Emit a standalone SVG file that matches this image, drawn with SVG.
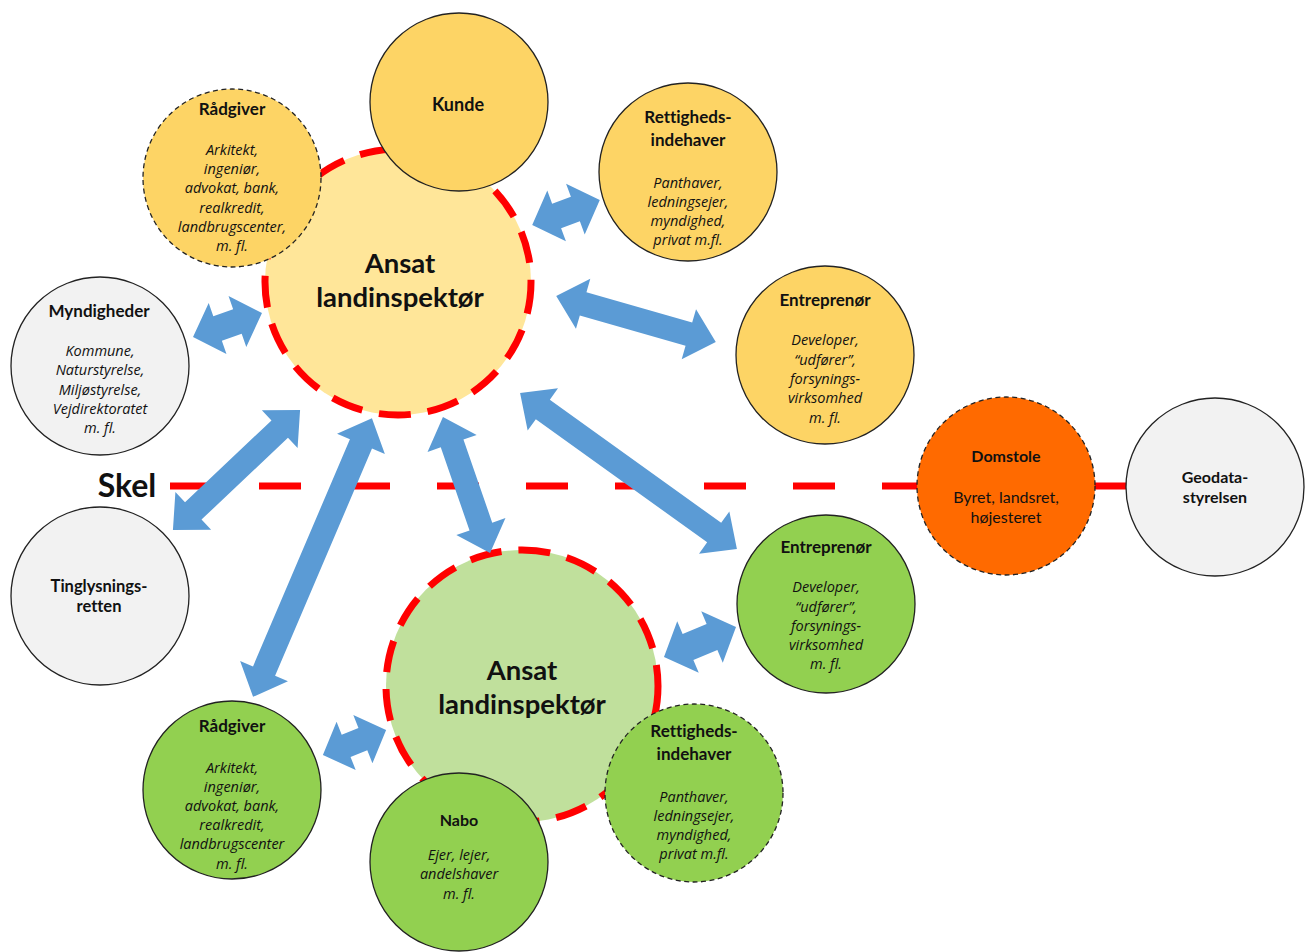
<svg xmlns="http://www.w3.org/2000/svg" width="1308" height="952" viewBox="0 0 1308 952">
<style>
text{font-family:Lato,"Liberation Sans",sans-serif;fill:#111;text-anchor:middle;font-variant-ligatures:none}
.t{font-weight:bold;font-size:17px}
.i{font-family:"Open Sans","Liberation Sans",sans-serif;font-style:italic;font-size:14.5px}
.n{font-size:16px}
.big{font-weight:bold;font-size:27.5px}
.node{stroke:#222;stroke-width:1.3}
.dash{stroke-dasharray:5 3.5}
.y{fill:#fdd465}
.g{fill:#92d050}
.gr{fill:#f2f2f2}
.arr{fill:#5b9bd5}
.red{fill:none;stroke:#ff0000;stroke-width:7;stroke-dasharray:32 17}
</style>
<rect width="1308" height="952" fill="#fff"/>
<g id="skel">
<line x1="170" y1="486" x2="1000" y2="486" stroke="#ff0000" stroke-width="7" stroke-dasharray="42 47"/>
<line x1="1000" y1="486" x2="1200" y2="486" stroke="#ff0000" stroke-width="7"/>
<text x="127" y="497" style="font-weight:bold;font-size:32px">Skel</text>
</g>
<g id="ansat-top">
<circle cx="398" cy="282" r="133" fill="#ffe699"/>
<circle cx="398" cy="282" r="133" class="red"/>
<text x="400" y="273" class="big">Ansat</text>
<text x="400" y="307" class="big">landinspektør</text>
</g>
<g id="ansat-bottom">
<circle cx="522" cy="686" r="136" fill="#c0e09c"/>
<circle cx="522" cy="686" r="136" class="red"/>
<text x="522" y="680" class="big">Ansat</text>
<text x="522" y="714" class="big">landinspektør</text>
</g>
<g id="kunde">
<circle cx="459" cy="102" r="89" class="node y"/>
<text x="458" y="111" class="t" style="font-size:18px">Kunde</text>
</g>
<g id="raadgiver-top">
<circle cx="232" cy="178" r="89" class="node y dash"/>
<text x="232" y="115" class="t">Rådgiver</text>
<text x="232" y="155" class="i">Arkitekt,</text>
<text x="232" y="174" class="i">ingeniør,</text>
<text x="232" y="193" class="i">advokat, bank,</text>
<text x="232" y="213" class="i">realkredit,</text>
<text x="232" y="232" class="i">landbrugscenter,</text>
<text x="232" y="251" class="i">m. fl.</text>
</g>
<g id="rettigheds-top">
<circle cx="688" cy="172" r="89" class="node y"/>
<text x="688" y="123" class="t">Rettigheds-</text>
<text x="688" y="146" class="t">indehaver</text>
<text x="688" y="188" class="i">Panthaver,</text>
<text x="688" y="207" class="i">ledningsejer,</text>
<text x="688" y="226" class="i">myndighed,</text>
<text x="688" y="245" class="i">privat m.fl.</text>
</g>
<g id="myndigheder">
<circle cx="100" cy="366" r="89" class="node gr"/>
<text x="99" y="317" class="t">Myndigheder</text>
<text x="100" y="356" class="i">Kommune,</text>
<text x="100" y="375" class="i">Naturstyrelse,</text>
<text x="100" y="395" class="i">Miljøstyrelse,</text>
<text x="100" y="414" class="i">Vejdirektoratet</text>
<text x="100" y="433" class="i">m. fl.</text>
</g>
<g id="entreprenoer-top">
<circle cx="825" cy="355" r="89" class="node y"/>
<text x="825" y="306" class="t">Entreprenør</text>
<text x="825" y="345" class="i">Developer,</text>
<text x="825" y="365" class="i">“udfører”,</text>
<text x="825" y="384" class="i">forsynings-</text>
<text x="825" y="403" class="i">virksomhed</text>
<text x="825" y="423" class="i">m. fl.</text>
</g>
<g id="domstole">
<circle cx="1006" cy="486" r="89" class="node dash" fill="#ff6a00"/>
<text x="1006" y="462" class="t" style="font-size:16px">Domstole</text>
<text x="1006" y="503" class="n">Byret, landsret,</text>
<text x="1006" y="523" class="n">højesteret</text>
</g>
<g id="geodata">
<circle cx="1215" cy="487" r="89" class="node gr"/>
<text x="1215" y="483" class="t" style="font-size:16px">Geodata-</text>
<text x="1215" y="503" class="t" style="font-size:16px">styrelsen</text>
</g>
<g id="tinglysning">
<circle cx="100" cy="596" r="89" class="node gr"/>
<text x="99" y="592" class="t" style="font-size:16.5px">Tinglysnings-</text>
<text x="99" y="612" class="t" style="font-size:16.5px">retten</text>
</g>
<g id="entreprenoer-bottom">
<circle cx="826" cy="604" r="89" class="node g"/>
<text x="826" y="553" class="t">Entreprenør</text>
<text x="826" y="592" class="i">Developer,</text>
<text x="826" y="612" class="i">“udfører”,</text>
<text x="826" y="631" class="i">forsynings-</text>
<text x="826" y="650" class="i">virksomhed</text>
<text x="826" y="669" class="i">m. fl.</text>
</g>
<g id="rettigheds-bottom">
<circle cx="694" cy="793" r="89" class="node g dash"/>
<text x="694" y="737" class="t">Rettigheds-</text>
<text x="694" y="760" class="t">indehaver</text>
<text x="694" y="802" class="i">Panthaver,</text>
<text x="694" y="821" class="i">ledningsejer,</text>
<text x="694" y="840" class="i">myndighed,</text>
<text x="694" y="859" class="i">privat m.fl.</text>
</g>
<g id="raadgiver-bottom">
<circle cx="232" cy="790" r="89" class="node g"/>
<text x="232" y="732" class="t">Rådgiver</text>
<text x="232" y="773" class="i">Arkitekt,</text>
<text x="232" y="792" class="i">ingeniør,</text>
<text x="232" y="811" class="i">advokat, bank,</text>
<text x="232" y="830" class="i">realkredit,</text>
<text x="232" y="849" class="i">landbrugscenter</text>
<text x="232" y="869" class="i">m. fl.</text>
</g>
<g id="nabo">
<circle cx="459" cy="862" r="89" class="node g"/>
<text x="459" y="826" class="t" style="font-size:16px">Nabo</text>
<text x="459" y="860" class="i">Ejer, lejer,</text>
<text x="459" y="879" class="i">andelshaver</text>
<text x="459" y="899" class="i">m. fl.</text>
</g>
<g id="connectors" class="arr">
<polygon transform="translate(227.5,325) rotate(-19.2)" points="-36.5,0 -10.5,-27 -10.5,-13 10.5,-13 10.5,-27 36.5,0 10.5,27 10.5,13 -10.5,13 -10.5,27"/>
<polygon transform="translate(566,212.5) rotate(-20.2)" points="-36,0 -10,-27 -10,-13 10,-13 10,-27 36,0 10,27 10,13 -10,13 -10,27"/>
<polygon transform="translate(636,319) rotate(16)" points="-83,0 -55,-26 -55,-12 55,-12 55,-26 83,0 55,26 55,12 -55,12 -55,26"/>
<polygon transform="translate(236.5,470) rotate(-43.4)" points="-87.5,0 -59.5,-26 -59.5,-12 59.5,-12 59.5,-26 87.5,0 59.5,26 59.5,12 -59.5,12 -59.5,26"/>
<polygon transform="translate(312.5,557.5) rotate(-66.9)" points="-151.5,0 -123.5,-26 -123.5,-12 123.5,-12 123.5,-26 151.5,0 123.5,26 123.5,12 -123.5,12 -123.5,26"/>
<polygon transform="translate(466.5,485) rotate(70.9)" points="-72,0 -44,-26 -44,-12 44,-12 44,-26 72,0 44,26 44,12 -44,12 -44,26"/>
<polygon transform="translate(628.5,471) rotate(35.7)" points="-133.5,0 -105.5,-26 -105.5,-12 105.5,-12 105.5,-26 133.5,0 105.5,26 105.5,12 -105.5,12 -105.5,26"/>
<polygon transform="translate(700,642) rotate(-22.6)" points="-39,0 -13,-28 -13,-14 13,-14 13,-28 39,0 13,28 13,14 -13,14 -13,28"/>
<polygon transform="translate(354.5,742.5) rotate(-21.6)" points="-34,0 -9,-26 -9,-12 9,-12 9,-26 34,0 9,26 9,12 -9,12 -9,26"/>
</g>
</svg>
